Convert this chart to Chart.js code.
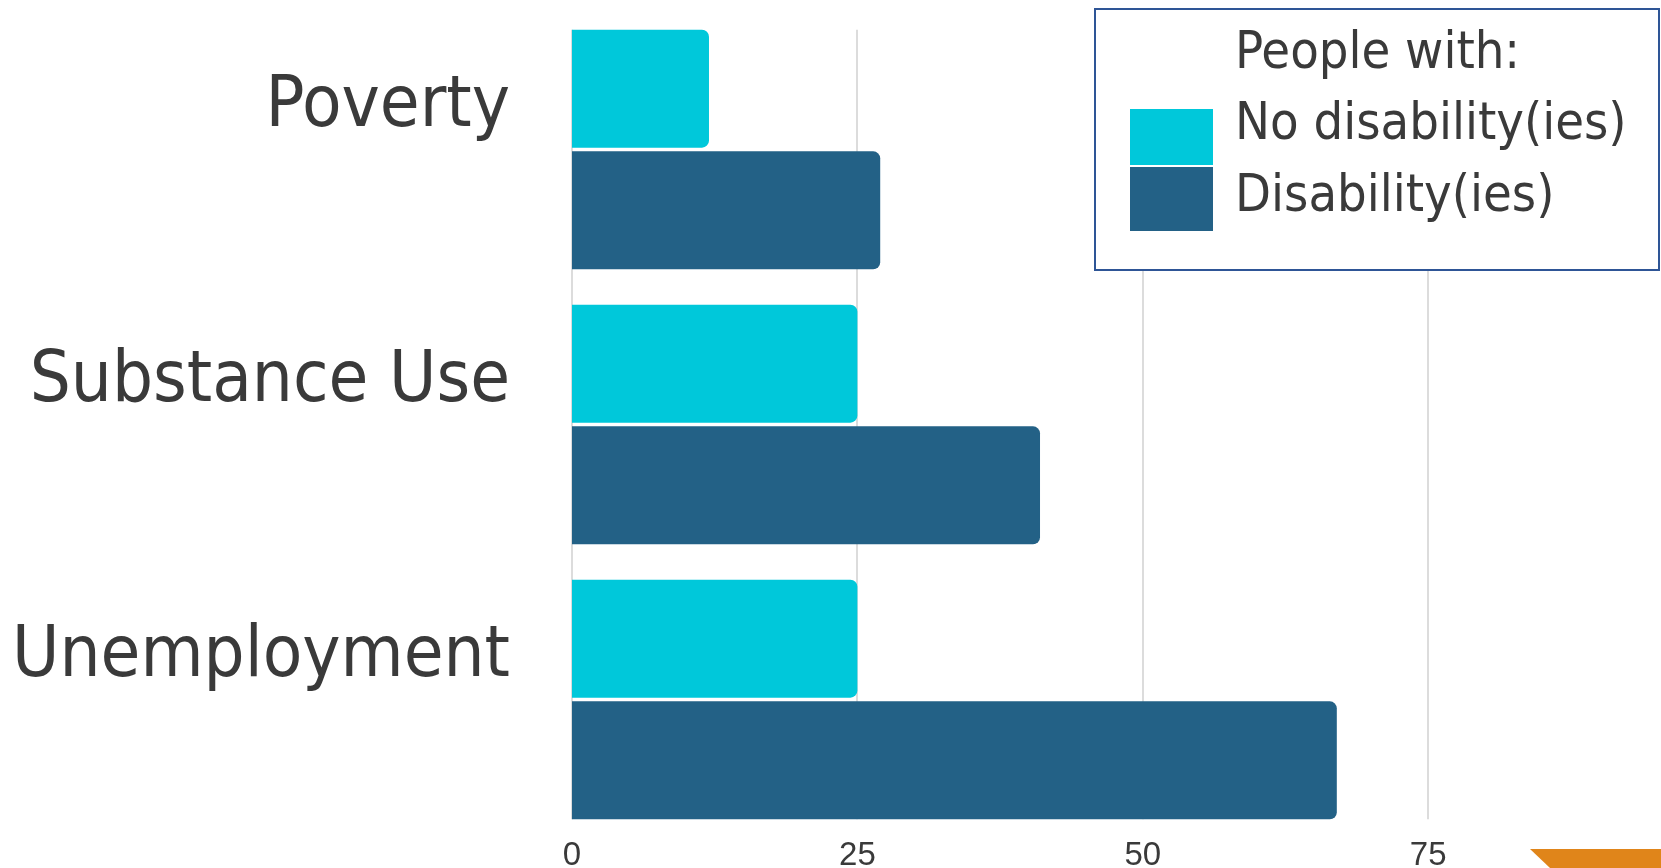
<!DOCTYPE html>
<html>
<head>
<meta charset="utf-8">
<title>People with disabilities</title>
<script src="https://cdn.jsdelivr.net/npm/chart.js@4/dist/chart.umd.min.js"></script>
<style>
  html, body { margin: 0; padding: 0; background: #fff; overflow: hidden; }
  #wrap { position: relative; width: 1661px; height: 868px; }
  #corner {
    position: absolute; left: 1530px; top: 849px; width: 131px; height: 19px;
    background: #e0851a; clip-path: polygon(0 0, 100% 0, 100% 100%, 20px 100%);
  }
</style>
</head>
<body>
<div id="wrap">
  <canvas id="disabilityChart" width="1661" height="868"></canvas>
  <div id="corner"></div>
</div>
<script>
const categories = ['Poverty', 'Substance Use', 'Unemployment'];
const noDisability = [12, 25, 25];
const withDisability = [27, 41, 67];
const seriesNames = ['No disability(ies)', 'Disability(ies)'];
const legendTitle = 'People with:';
const xTicks = [0, 25, 50, 75];

const textColor = '#3a3a3a';
const labelFont = '"DejaVu Sans Condensed", "DejaVu Sans", sans-serif';

// boxed legend in the upper right, title over two swatch rows
const boxLegend = {
  id: 'boxLegend',
  afterDraw(chart) {
    const ctx = chart.ctx;
    ctx.save();
    ctx.fillStyle = '#fff';
    ctx.fillRect(1095, 9, 564, 261);
    ctx.strokeStyle = '#2e5596';
    ctx.lineWidth = 2;
    ctx.strokeRect(1095, 9, 564, 261);

    ctx.font = '52px ' + labelFont;
    ctx.fillStyle = textColor;
    ctx.textBaseline = 'middle';
    ctx.fillText(legendTitle, 1235, 54);

    chart.data.datasets.forEach((ds, i) => {
      const top = i === 0 ? 109 : 167;
      const h = i === 0 ? 56 : 64;
      ctx.fillStyle = ds.backgroundColor;
      ctx.fillRect(1130, top, 83, h);
      ctx.fillStyle = textColor;
      ctx.fillText(ds.label, 1235, i === 0 ? 125 : 197);
    });
    ctx.restore();
  }
};

// vertical gridlines only across the bar groups
const barGrid = {
  id: 'barGrid',
  beforeDatasetsDraw(chart) {
    const x = chart.scales.x;
    const first = chart.getDatasetMeta(0).data[0];
    const lastMeta = chart.getDatasetMeta(1).data;
    const last = lastMeta[lastMeta.length - 1];
    const top = first.y - first.height / 2;
    const bottom = last.y + last.height / 2;
    const ctx = chart.ctx;
    ctx.save();
    ctx.strokeStyle = '#dcdcdc';
    ctx.lineWidth = 2;
    xTicks.forEach(v => {
      const px = Math.round(x.getPixelForValue(v));
      ctx.beginPath();
      ctx.moveTo(px, top);
      ctx.lineTo(px, bottom);
      ctx.stroke();
    });
    ctx.restore();
  }
};

const ctx = document.getElementById('disabilityChart').getContext('2d');
new Chart(ctx, {
  type: 'bar',
  data: {
    labels: categories,
    datasets: [
      {
        label: seriesNames[0],
        data: noDisability,
        backgroundColor: '#00c8da',
        borderRadius: 7,
        categoryPercentage: 0.885,
        barPercentage: 0.97
      },
      {
        label: seriesNames[1],
        data: withDisability,
        backgroundColor: '#236186',
        borderRadius: 7,
        categoryPercentage: 0.885,
        barPercentage: 0.97
      }
    ]
  },
  options: {
    indexAxis: 'y',
    responsive: false,
    animation: false,
    layout: { padding: { top: 12, right: 0, left: 0, bottom: 0 } },
    plugins: {
      legend: { display: false },
      tooltip: { enabled: false }
    },
    scales: {
      x: {
        min: 0,
        max: 95.4,
        grid: { display: false, drawTicks: false },
        border: { display: false },
        afterBuildTicks(scale) {
          scale.ticks = xTicks.map(v => ({ value: v }));
        },
        afterFit(scale) {
          scale.height = 31;
          scale.paddingLeft = 0;
          scale.paddingRight = 0;
        },
        ticks: {
          color: textColor,
          padding: 2,
          font: { family: '"Liberation Sans", sans-serif', size: 33, lineHeight: 1 }
        }
      },
      y: {
        grid: { display: false, drawTicks: false },
        border: { display: false },
        afterFit(scale) {
          scale.width = 572;
          scale.paddingTop = 0;
          scale.paddingBottom = 0;
        },
        ticks: {
          color: textColor,
          padding: 62,
          labelOffset: -42,
          font: { family: labelFont, size: 72 }
        }
      }
    }
  },
  plugins: [barGrid, boxLegend]
});
</script>
</body>
</html>
